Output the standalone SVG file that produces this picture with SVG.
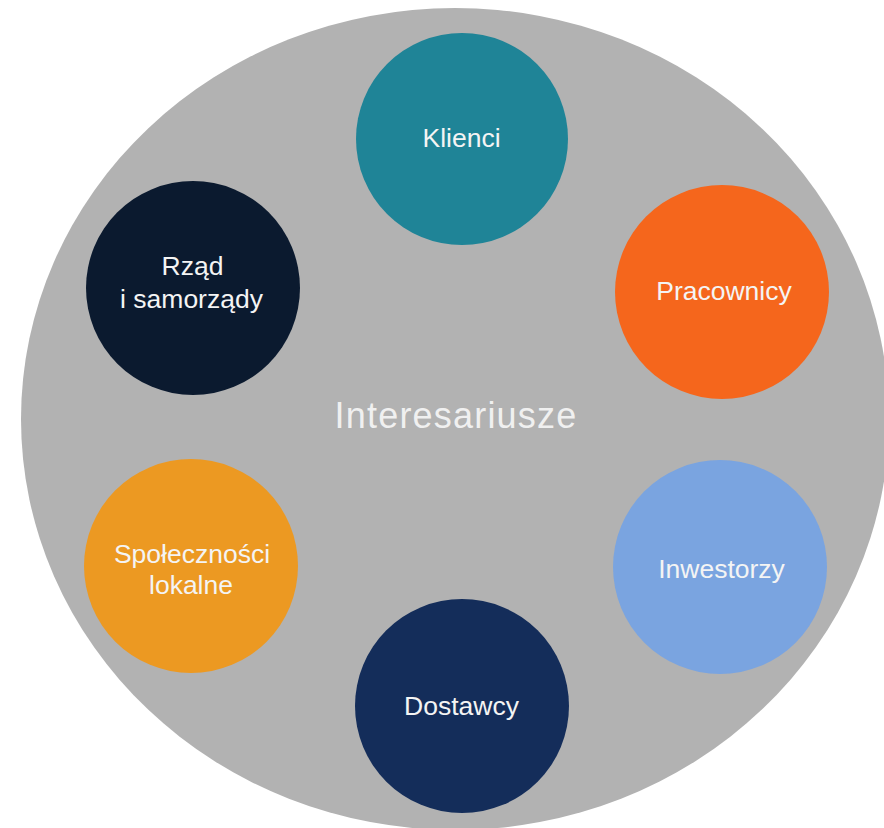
<svg xmlns="http://www.w3.org/2000/svg" width="884" height="828" viewBox="0 0 884 828">
<style>
.lbl{font-family:"Liberation Sans",Arial,sans-serif;font-size:26.5px;fill:#f4f4f4;text-anchor:middle}
.title{font-family:"Liberation Sans",Arial,sans-serif;font-size:36px;letter-spacing:1.2px;fill:#f0f0f0;text-anchor:middle}
</style>
<rect width="884" height="828" fill="#ffffff"/>
<g id="background">
<ellipse cx="455" cy="419" rx="434" ry="411" fill="#b2b2b2"/>
<text class="title" x="456" y="428">Interesariusze</text>
</g>
<g id="connectors"></g>
<g id="klienci">
<circle cx="462" cy="139" r="106" fill="#1f8497"/>
<text class="lbl" x="461.5" y="147">Klienci</text>
</g>
<g id="pracownicy">
<circle cx="722" cy="292" r="107" fill="#f5661c"/>
<text class="lbl" x="724" y="300">Pracownicy</text>
</g>
<g id="inwestorzy">
<circle cx="720" cy="567" r="107" fill="#7aa4e0"/>
<text class="lbl" x="721.5" y="578">Inwestorzy</text>
</g>
<g id="dostawcy">
<circle cx="462" cy="706" r="107" fill="#142d5a"/>
<text class="lbl" x="461.5" y="715">Dostawcy</text>
</g>
<g id="spolecznosci">
<circle cx="191" cy="566" r="107" fill="#ec9922"/>
<text class="lbl" x="192" y="563">Społeczności</text>
<text class="lbl" x="191" y="594">lokalne</text>
</g>
<g id="rzad">
<circle cx="193" cy="288" r="107" fill="#0b1a2f"/>
<text class="lbl" x="192.5" y="275">Rząd</text>
<text class="lbl" x="191.5" y="308">i samorządy</text>
</g>
</svg>
